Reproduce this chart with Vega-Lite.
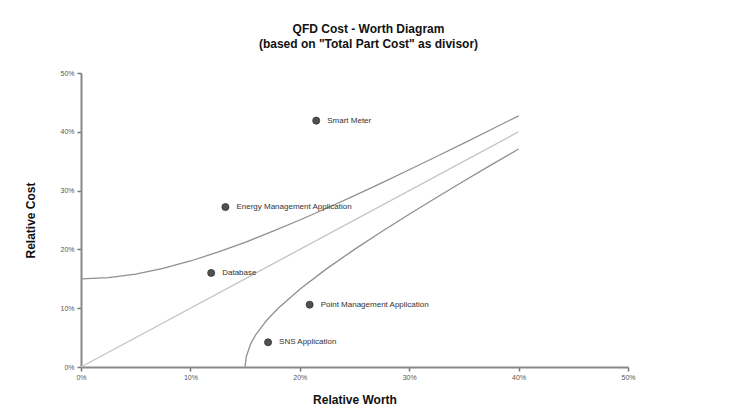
{
  "$schema": "https://vega.github.io/schema/vega-lite/v6.json",
  "autosize": {"type": "none"},
  "width": 547,
  "height": 294,
  "padding": {"left": 81, "top": 73, "right": 125, "bottom": 53},
  "background": "white",
  "config": {
    "font": "Liberation Sans",
    "view": {"stroke": null},
    "axis": {"grid": false, "labelFlush": false, "domainColor": "#888888", "domainWidth": 2, "tickColor": "#777777", "tickWidth": 1.5, "tickSize": 4, "labelFontSize": 7, "labelColor": "#555555", "titleFontSize": 12, "titleFontWeight": "bold", "titleColor": "#111111"}
  },
  "title": {
    "text": ["QFD Cost - Worth Diagram", "(based on \"Total Part Cost\" as divisor)"],
    "fontSize": 12,
    "fontWeight": "bold",
    "color": "#111111",
    "lineHeight": 15,
    "anchor": "middle",
    "frame": "group",
    "dx": 14,
    "offset": 18
  },
  "datasets": {
    "curves": [
      {"series": "upper", "worth": 0.0, "cost": 0.15},
      {"series": "upper", "worth": 0.025, "cost": 0.15207},
      {"series": "upper", "worth": 0.05, "cost": 0.15811},
      {"series": "upper", "worth": 0.075, "cost": 0.16771},
      {"series": "upper", "worth": 0.1, "cost": 0.18028},
      {"series": "upper", "worth": 0.125, "cost": 0.19526},
      {"series": "upper", "worth": 0.15, "cost": 0.21213},
      {"series": "upper", "worth": 0.175, "cost": 0.23049},
      {"series": "upper", "worth": 0.2, "cost": 0.25},
      {"series": "upper", "worth": 0.225, "cost": 0.27042},
      {"series": "upper", "worth": 0.25, "cost": 0.29155},
      {"series": "upper", "worth": 0.275, "cost": 0.31325},
      {"series": "upper", "worth": 0.3, "cost": 0.33541},
      {"series": "upper", "worth": 0.325, "cost": 0.35795},
      {"series": "upper", "worth": 0.35, "cost": 0.38079},
      {"series": "upper", "worth": 0.375, "cost": 0.40389},
      {"series": "upper", "worth": 0.4, "cost": 0.4272},
      {"series": "middle", "worth": 0.0, "cost": 0.0},
      {"series": "middle", "worth": 0.4, "cost": 0.4},
      {"series": "lower", "worth": 0.15, "cost": 0.0},
      {"series": "lower", "worth": 0.151, "cost": 0.01735},
      {"series": "lower", "worth": 0.155, "cost": 0.03905},
      {"series": "lower", "worth": 0.16, "cost": 0.05568},
      {"series": "lower", "worth": 0.17, "cost": 0.08},
      {"series": "lower", "worth": 0.18, "cost": 0.0995},
      {"series": "lower", "worth": 0.2, "cost": 0.13229},
      {"series": "lower", "worth": 0.225, "cost": 0.16771},
      {"series": "lower", "worth": 0.25, "cost": 0.2},
      {"series": "lower", "worth": 0.275, "cost": 0.23049},
      {"series": "lower", "worth": 0.3, "cost": 0.25981},
      {"series": "lower", "worth": 0.325, "cost": 0.28831},
      {"series": "lower", "worth": 0.35, "cost": 0.31623},
      {"series": "lower", "worth": 0.375, "cost": 0.34369},
      {"series": "lower", "worth": 0.4, "cost": 0.37081}
    ],
    "parts": [
      {"part": "Smart Meter", "worth": 0.215, "cost": 0.419},
      {"part": "Energy Management Application", "worth": 0.132, "cost": 0.272},
      {"part": "Database", "worth": 0.119, "cost": 0.16},
      {"part": "Point Management Application", "worth": 0.209, "cost": 0.106},
      {"part": "SNS Application", "worth": 0.171, "cost": 0.042}
    ]
  },
  "layer": [
    {
      "data": {"name": "curves"},
      "mark": {"type": "line", "strokeWidth": 1.3, "clip": false},
      "encoding": {
        "x": {"field": "worth", "type": "quantitative", "scale": {"domain": [0, 0.5], "nice": false}, "axis": {"title": "Relative Worth", "format": ".0%", "values": [0, 0.1, 0.2, 0.3, 0.4, 0.5], "titlePadding": 14, "labelPadding": 2}},
        "y": {"field": "cost", "type": "quantitative", "scale": {"domain": [0, 0.5], "nice": false}, "axis": {"title": "Relative Cost", "format": ".0%", "values": [0, 0.1, 0.2, 0.3, 0.4, 0.5], "titlePadding": 22, "labelPadding": 3}},
        "color": {"field": "series", "type": "nominal", "scale": {"domain": ["upper", "middle", "lower"], "range": ["#8f8f8f", "#c4c4c4", "#8f8f8f"]}, "legend": null},
        "detail": {"field": "series"}
      }
    },
    {
      "data": {"name": "parts"},
      "mark": {"type": "point", "filled": true, "size": 50, "color": "#505050", "stroke": "#333333", "strokeWidth": 0.8, "opacity": 1},
      "encoding": {
        "x": {"field": "worth", "type": "quantitative"},
        "y": {"field": "cost", "type": "quantitative"}
      }
    },
    {
      "data": {"name": "parts"},
      "mark": {"type": "text", "align": "left", "baseline": "middle", "dx": 11, "fontSize": 8, "color": "#333333"},
      "encoding": {
        "x": {"field": "worth", "type": "quantitative"},
        "y": {"field": "cost", "type": "quantitative"},
        "text": {"field": "part"}
      }
    }
  ]
}
